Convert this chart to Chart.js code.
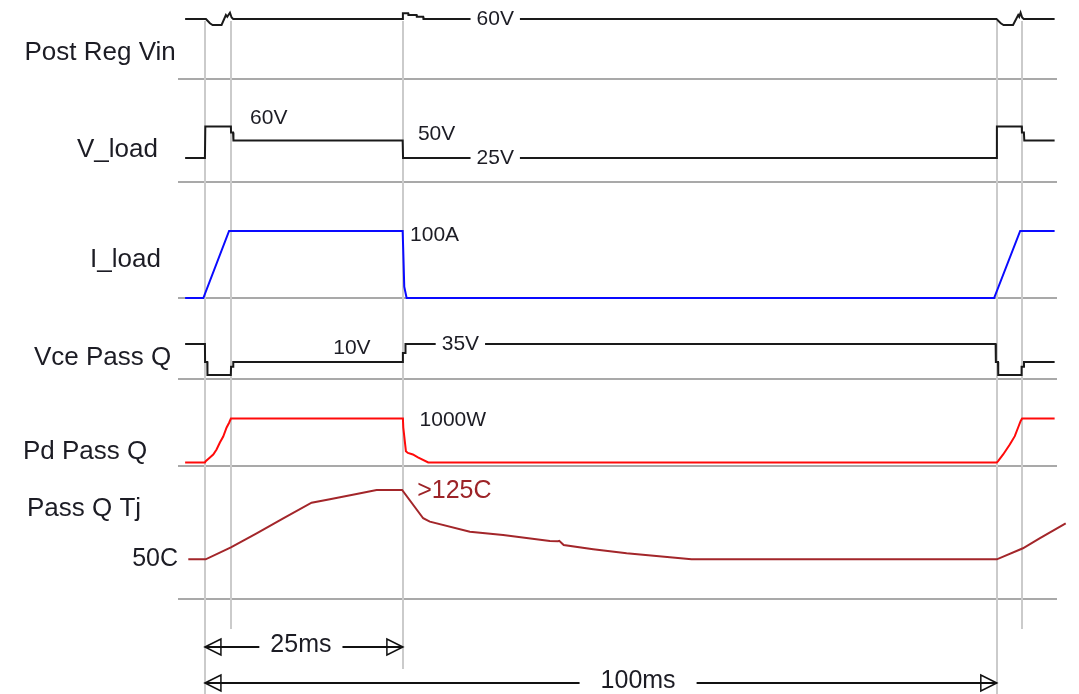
<!DOCTYPE html>
<html>
<head>
<meta charset="utf-8">
<script src="https://cdn.jsdelivr.net/npm/chart.js@4.4.1/dist/chart.umd.min.js"></script>
<style>
  html, body { margin: 0; padding: 0; background: #fff; }
  canvas { display: block; }
</style>
</head>
<body>
<canvas id="timing" width="1079" height="694"></canvas>
<script>
// time in ms, every channel in its own unit
const vinT = [-2.5, 0.13, 0.63, 0.97, 2.1, 2.65, 2.82, 3.16, 3.37, 3.57,
              24.96, 25.0, 25.67, 25.7, 26.73, 26.76, 27.56, 27.6,
              99.96, 100.5, 100.85, 102.05, 102.7, 102.83, 103.0, 103.2, 103.4, 107.3];
const vinV = [60, 60, 58.3, 57.6, 57.6, 61.6, 60.9, 62.5, 60.6, 60,
              60, 62.3, 62.3, 61.6, 61.6, 60.9, 60.9, 60,
              60, 58.3, 57.6, 57.6, 61.6, 60.9, 62.5, 60.6, 60, 60];

const vloadT = [-2.5, 0.0, 0.05, 3.28, 3.3, 3.55, 3.6, 24.97, 25.02,
                99.96, 100.01, 103.15, 103.17, 103.42, 103.47, 107.3];
const vloadV = [25, 25, 88, 88, 76, 76, 60, 60, 25,
                25, 88, 88, 76, 76, 60, 60];

const iloadT = [-2.5, -0.2, 3.05, 24.97, 25.04, 25.17, 25.47, 99.66, 102.95, 107.3];
const iloadA = [0, 0, 100, 100, 72, 17, 0, 0, 100, 100];

const vceT = [-2.5, 0.0, 0.02, 0.3, 0.32, 3.27, 3.3, 3.55, 3.58, 24.97, 25.0, 25.3, 25.33,
              99.85, 99.88, 100.15, 100.18, 103.1, 103.13, 103.4, 103.43, 107.3];
const vceV = [35, 35, 10, 10, -8, -8, 3.5, 3.5, 10, 10, 22.5, 22.5, 35,
              35, 10, 10, -8, -8, 3.5, 3.5, 10, 10];

const pdT = [-2.5, 0.0, 0.1, 0.63, 1.05, 1.47, 1.89, 2.31, 2.74, 3.07, 3.28,
             25.0, 25.05, 25.38, 25.63, 26.26, 26.9, 28.2,
             100.0, 100.16, 100.8, 101.64, 102.27, 102.69, 103.0, 103.19, 107.3];
const pdW = [0, 0, 30, 114, 182, 295, 455, 591, 795, 909, 1000,
             1000, 795, 257, 216, 182, 114, 0,
             0, 30, 182, 409, 598, 795, 939, 1000, 1000];

const tjT = [-2.1, 0.09, 3.28, 6.53, 9.89, 13.47, 15.78, 19.15, 21.68, 24.9,
             27.56, 28.4, 33.46, 37.66, 43.56, 44.6, 44.75, 45.3, 49.03, 53.25, 58.71, 61.45,
             100.0, 103.3, 105.4, 108.7];
const tjC = [50, 50, 63, 78.3, 94.6, 111.5, 115.2, 121, 125.3, 125.3,
             94.6, 90.9, 80, 76.4, 69.9, 69.6, 70.1, 65.5, 60.9, 56.5, 52.2, 50,
             50, 62, 72.8, 89.1];

// reference instants (ms)
const markerT = [0, 3.25, 25, 100, 103.2];

const rowNames = ['Post Reg Vin', 'V_load', 'I_load', 'Vce Pass Q', 'Pd Pass Q', 'Pass Q Tj'];

const pts = (t, v) => t.map((x, i) => ({ x: x, y: v[i] }));

const FONT = '"Liberation Sans", Arial, sans-serif';

function wave(data, axis, color) {
    return {
        data: data,
        yAxisID: axis,
        borderColor: color,
        borderWidth: 2,
        pointRadius: 0,
        tension: 0,
        fill: false,
        clip: false
    };
}

function rowAxis(weight, order, min, max) {
    return {
        type: 'linear',
        position: 'left',
        stack: 'rows',
        stackWeight: weight,
        weight: order,
        min: min,
        max: max,
        display: false
    };
}

function seg(ctx, x0, y0, x1, y1) {
    ctx.beginPath();
    ctx.moveTo(x0, y0);
    ctx.lineTo(x1, y1);
    ctx.stroke();
}

const background = {
    id: 'background',
    beforeDatasetsDraw(chart) {
        const { ctx, chartArea, scales } = chart;
        const x = scales.x;
        ctx.save();
        ctx.lineWidth = 2;
        // row separators
        ctx.strokeStyle = '#a9a9a9';
        ['yVin', 'yVload', 'yIload', 'yVce', 'yPd', 'yTj'].forEach(id => {
            const y = Math.round(scales[id].bottom);
            seg(ctx, chartArea.left, y, chartArea.right, y);
        });
        // time markers, running down into the dimension area
        const below = [95, 30, 70, 95, 30];
        ctx.strokeStyle = '#cbcbcb';
        markerT.forEach((t, i) => {
            const px = Math.round(x.getPixelForValue(t));
            seg(ctx, px, 21, px, chartArea.bottom + below[i]);
        });
        ctx.restore();
    }
};

function text(ctx, str, x, y, size, color, align, bg) {
    ctx.font = size + 'px ' + FONT;
    ctx.textAlign = align || 'left';
    ctx.textBaseline = 'middle';
    if (bg) {
        const w = ctx.measureText(str).width;
        const left = align === 'center' ? x - w / 2 : x;
        ctx.fillStyle = '#fff';
        ctx.fillRect(left - 6, y - size / 2, w + 12, size);
    }
    ctx.fillStyle = color;
    ctx.fillText(str, x, y);
}

function head(ctx, x, y, dir) {
    ctx.beginPath();
    ctx.moveTo(x, y);
    ctx.lineTo(x + dir * 16, y - 8);
    ctx.lineTo(x + dir * 16, y + 8);
    ctx.closePath();
    ctx.stroke();
}

function dim(ctx, x0, x1, y, str, xc, gap) {
    ctx.font = '25px ' + FONT;
    const w = ctx.measureText(str).width;
    ctx.strokeStyle = '#111';
    ctx.lineWidth = 2;
    seg(ctx, x0, y, xc - w / 2 - gap, y);
    seg(ctx, xc + w / 2 + gap, y, x1, y);
    ctx.lineWidth = 1.5;
    head(ctx, x0, y, 1);
    head(ctx, x1, y, -1);
    text(ctx, str, xc, y - 2, 25, '#1c1c24', 'center');
}

const labels = {
    id: 'labels',
    afterDatasetsDraw(chart) {
        const { ctx, chartArea, scales } = chart;
        const x = scales.x;
        const at = (t) => x.getPixelForValue(t);
        const on = (id, v) => scales[id].getPixelForValue(v);
        const dark = '#1c1c24';
        ctx.save();

        // channel names
        const nameX = [24.5, 77, 90, 34, 23, 27];
        const nameY = [52.5, 150, 260, 358, 452, 509];
        rowNames.forEach((n, i) => text(ctx, n, nameX[i], nameY[i], 26, dark));

        // level annotations
        text(ctx, '60V', at(34.3), on('yVin', 60), 21, dark, 'left', true);
        text(ctx, '60V', at(5.7), on('yVload', 105), 21, dark);
        text(ctx, '50V', at(26.9), on('yVload', 73), 21, dark);
        text(ctx, '25V', at(34.3), on('yVload', 25), 21, dark, 'left', true);
        text(ctx, '100A', at(25.9), on('yIload', 94), 21, dark);
        text(ctx, '10V', at(16.2), on('yVce', 29.4), 21, dark);
        text(ctx, '35V', at(29.9), on('yVce', 35), 21, dark, 'left', true);
        text(ctx, '1000W', at(27.1), on('yPd', 966), 21, dark);
        text(ctx, '>125C', at(26.8), on('yTj', 124), 25, '#9c2327');
        text(ctx, '50C', chartArea.left, on('yTj', 50), 25, dark, 'right');

        // time dimensions
        dim(ctx, at(0), at(25), chartArea.bottom + 48, '25ms', at(12.12), 11);
        dim(ctx, at(0), at(100), chartArea.bottom + 84, '100ms', at(54.7), 21);
        ctx.restore();
    }
};

new Chart(document.getElementById('timing'), {
    type: 'line',
    data: {
        datasets: [
            wave(pts(vinT, vinV), 'yVin', '#1a1a1a'),
            wave(pts(vloadT, vloadV), 'yVload', '#1a1a1a'),
            wave(pts(iloadT, iloadA), 'yIload', '#0a0aff'),
            wave(pts(vceT, vceV), 'yVce', '#1a1a1a'),
            wave(pts(pdT, pdW), 'yPd', '#ff0a0a'),
            wave(pts(tjT, tjC), 'yTj', '#a3262a')
        ]
    },
    options: {
        responsive: false,
        devicePixelRatio: 1,
        animation: false,
        layout: {
            padding: { left: 178, right: 22, top: 0, bottom: 95 }
        },
        scales: {
            x: { type: 'linear', min: -3.4, max: 107.6, display: false },
            yVin: rowAxis(79, 6, 36, 67.6),
            yVload: rowAxis(103, 5, -23, 183),
            yIload: rowAxis(116, 4, 0, 173.1),
            yVce: rowAxis(81, 3, -13.6, 98.9),
            yPd: rowAxis(87, 2, -80, 1898),
            yTj: rowAxis(133, 1, 6.85, 151.4)
        },
        plugins: {
            legend: { display: false },
            tooltip: { enabled: false }
        }
    },
    plugins: [background, labels]
});
</script>
</body>
</html>
